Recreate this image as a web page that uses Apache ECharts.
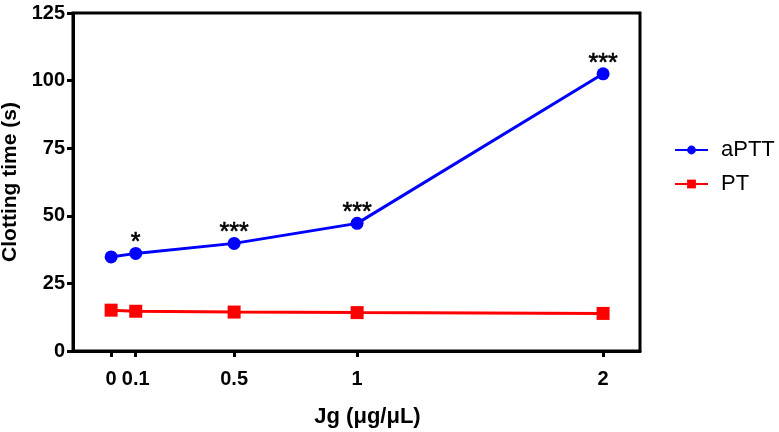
<!DOCTYPE html>
<html>
<head>
<meta charset="utf-8">
<script src="https://cdn.jsdelivr.net/npm/echarts@6/dist/echarts.min.js"></script>
<style>html,body{margin:0;padding:0;background:#fff;}#c{width:779px;height:432px;}</style>
</head>
<body>
<div id="c"></div>
<script>
var xValues = [0, 0.1, 0.5, 1, 2];
var xTickLabels = [0, 0.1, 0.5, 1, 2];
var apttValues = [34.8, 36.1, 39.8, 47.2, 102.5];
var ptValues = [15.1, 14.7, 14.4, 14.2, 13.9];
var apttSignif = ['', '*', '***', '***', '***'];

var chart = echarts.init(document.getElementById('c'));
var font = 'Liberation Sans, Arial, sans-serif';
function pairs(ys) { return xValues.map(function (x, i) { return [x, ys[i]]; }); }

chart.setOption({
  animation: false,
  backgroundColor: '#fff',
  grid: { left: 73, right: 139, top: 13, bottom: 81, show: true, borderColor: '#000', borderWidth: 3, containLabel: false, outerBoundsMode: 'none' },
  legend: {
    left: 669, top: 134, orient: 'vertical', itemWidth: 33, itemHeight: 11, itemGap: 12,
    textStyle: { fontFamily: font, fontSize: 22, color: '#000', padding: [0, 0, 0, 8] },
    data: ['aPTT', 'PT']
  },
  xAxis: {
    type: 'value', min: -0.155, max: 2.15,
    name: 'Jg (\u03bcg/\u03bcL)', nameLocation: 'middle', nameGap: 55,
    nameTextStyle: { fontFamily: font, fontSize: 22, fontWeight: 'bold', color: '#000', padding: [0, 0, 0, 22] },
    axisLine: { show: true, onZero: false, lineStyle: { color: '#000', width: 3 } },
    axisTick: { show: true, length: 6, lineStyle: { color: '#000', width: 3 }, customValues: xTickLabels },
    axisLabel: { fontFamily: font, fontSize: 20, fontWeight: 'bold', color: '#000', margin: 18, customValues: xTickLabels },
    splitLine: { show: false }
  },
  yAxis: {
    type: 'value', min: 0, max: 125, interval: 25,
    name: 'Clotting time (s)', nameLocation: 'middle', nameGap: 44, nameRotate: 90,
    nameTextStyle: { fontFamily: font, fontSize: 21, fontWeight: 'bold', color: '#000' },
    axisLine: { show: true, onZero: false, lineStyle: { color: '#000', width: 3 } },
    axisTick: { show: true, length: 6, lineStyle: { color: '#000', width: 3 } },
    axisLabel: { fontFamily: font, fontSize: 20, fontWeight: 'bold', color: '#000', margin: 8 },
    splitLine: { show: false }
  },
  series: [
    {
      name: 'aPTT', type: 'line', data: pairs(apttValues),
      symbol: 'circle', symbolSize: 13,
      itemStyle: { color: '#0000FF' }, lineStyle: { color: '#0000FF', width: 3 },
      label: {
        show: true, position: 'top', distance: -9,
        fontFamily: font, fontSize: 25, color: '#000', textBorderColor: '#000', textBorderWidth: 0.6,
        formatter: function (p) { return apttSignif[p.dataIndex]; }
      },
      z: 3
    },
    {
      name: 'PT', type: 'line', data: pairs(ptValues),
      symbol: 'rect', symbolSize: 13,
      itemStyle: { color: '#FF0000' }, lineStyle: { color: '#FF0000', width: 3 },
      z: 2
    }
  ]
});
</script>
</body>
</html>
